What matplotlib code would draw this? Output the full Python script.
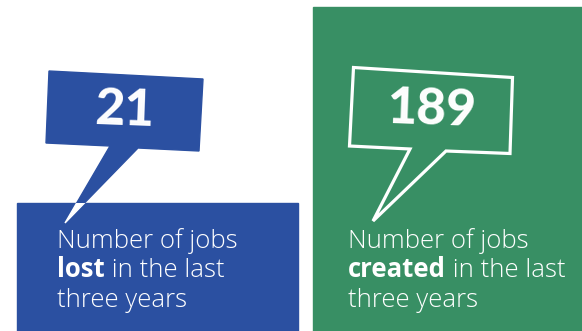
import matplotlib.pyplot as plt
from matplotlib.patches import Polygon, Rectangle

# figures shown on the two cards
counts = ['21', '189']
lead = ['Number of jobs', 'Number of jobs']
keyword = ['lost', 'created']
tail_text = [' in the last', ' in the last']
last_line = ['three years', 'three years']

blue = '#2b50a1'
green = '#388f64'

fig = plt.figure(figsize=(5.82, 3.31), dpi=100)
ax = fig.add_axes([0, 0, 1, 1])
ax.set_xlim(0, 582)
ax.set_ylim(331, 0)
ax.axis('off')

# blue card: filled bubble, panel, and the tail tip that shows white over the panel
panel = Rectangle((17, 203), 281, 130, color=blue, zorder=1)
ax.add_patch(panel)
bubble = [(49, 71), (203, 79), (199, 151), (138, 148), (65, 223), (110, 146), (46, 143)]
ax.add_patch(Polygon(bubble, closed=True, color=blue, zorder=0))
tip = Polygon([(110, 146), (138, 148), (65, 223)], closed=True, color='white', zorder=2)
ax.add_patch(tip)
tip.set_clip_path(panel)

# green card: full-height panel with an outlined bubble
ax.add_patch(Rectangle((313, 7), 270, 326, color=green, zorder=1))
outline = [(353.5, 67.5), (512.5, 77.5), (510, 153.5), (446, 151), (373, 221),
           (410, 149), (349.5, 146)]
ax.add_patch(Polygon(outline, closed=True, fill=False, edgecolor='white',
                     linewidth=2.3, joinstyle='miter', zorder=3))

num_font = dict(family='Lato', fontweight='black', color='white', fontsize=37,
                ha='center', va='center', rotation=-2, zorder=4)
ax.text(124, 111, counts[0], **num_font)
ax.text(432, 110, counts[1], **num_font)

fs = 18.5
body = dict(family='Open Sans', color='white', fontsize=fs, va='baseline', zorder=4)
for x0, i in [(57, 0), (348, 1)]:
    ax.text(x0, 248, lead[i], fontweight='light', **body)
    k = ax.text(x0, 277, keyword[i], fontweight='bold', **body)
    ax.annotate(tail_text[i], xy=(1, 0), xycoords=k, va='bottom', ha='left',
                family='Open Sans', fontweight='light', color='white', fontsize=fs, zorder=4)
    ax.text(x0, 307, last_line[i], fontweight='light', **body)

fig.savefig('out.png', dpi=100)
